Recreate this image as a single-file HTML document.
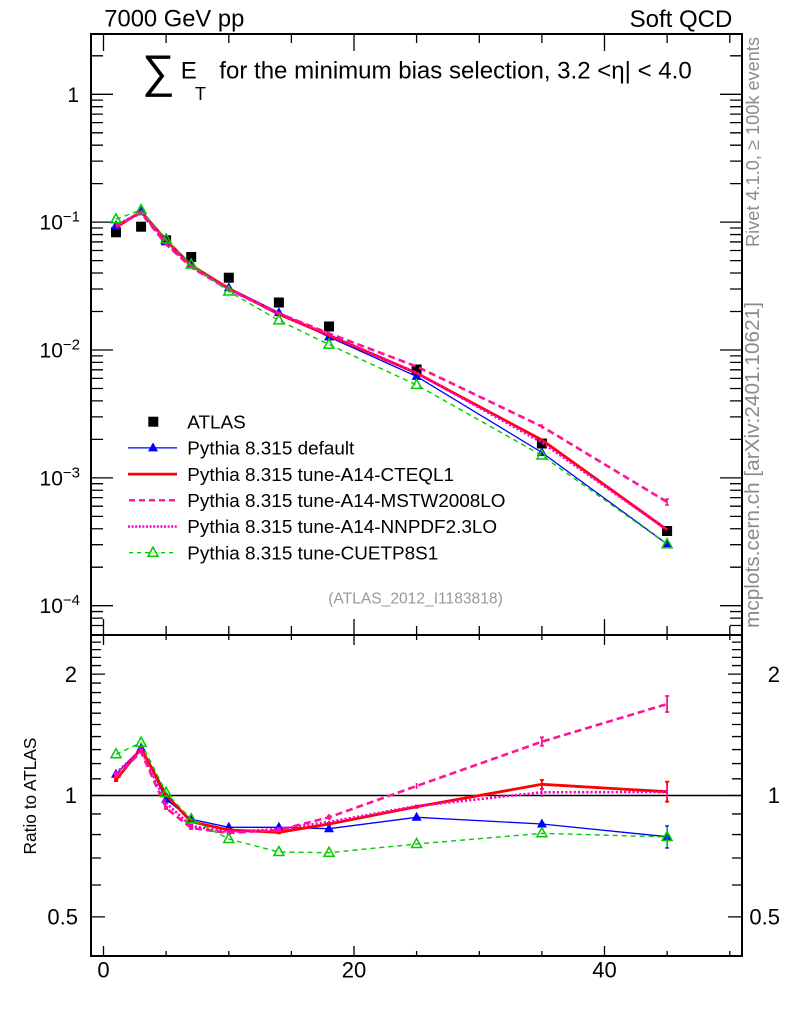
<!DOCTYPE html>
<html><head><meta charset="utf-8"><style>
html,body{margin:0;padding:0;background:#fff;}
svg{display:block;font-family:"Liberation Sans","DejaVu Sans",sans-serif;}
</style></head><body>
<svg width="786" height="1024" viewBox="0 0 786 1024" xmlns="http://www.w3.org/2000/svg">
<defs>
<path id="tri" d="M0,-5.5 L5,3.5 L-5,3.5 Z"/>
</defs>
<rect width="786" height="1024" fill="#fff"/>

<!-- header texts -->
<text x="104.3" y="26.7" font-size="23.6" textLength="140" lengthAdjust="spacingAndGlyphs">7000 GeV pp</text>
<text x="732.3" y="27" font-size="24" text-anchor="end">Soft QCD</text>

<!-- title -->
<text x="142" y="87" font-size="46">∑</text>
<text x="180.7" y="78.3" font-size="24">E</text>
<text x="195" y="100" font-size="18">T</text>
<text x="219.3" y="78.3" font-size="24" textLength="472.4" lengthAdjust="spacingAndGlyphs">for the minimum bias selection, 3.2 &lt;η| &lt; 4.0</text>

<!-- right rotated texts -->
<text transform="translate(759,247) rotate(-90)" font-size="18.3" fill="#8c8c8c" textLength="210" lengthAdjust="spacingAndGlyphs">Rivet 4.1.0, ≥ 100k events</text>
<text transform="translate(759,628) rotate(-90)" font-size="20" fill="#8c8c8c" textLength="326" lengthAdjust="spacingAndGlyphs">mcplots.cern.ch [arXiv:2401.10621]</text>

<!-- ratio y label -->
<text transform="translate(36,796) rotate(-90)" font-size="17.3" text-anchor="middle">Ratio to ATLAS</text>

<!-- frames -->
<rect x="91" y="34" width="651" height="601" fill="none" stroke="#000" stroke-width="2"/>
<rect x="91" y="635" width="651" height="321" fill="none" stroke="#000" stroke-width="2"/>

<!-- main panel y ticks -->
<path stroke="#000" stroke-width="1.3" fill="none" d="
M91,94.3h22 M91,222.15h22 M91,350h22 M91,477.85h22 M91,605.7h22
M742,94.3h-22 M742,222.15h-22 M742,350h-22 M742,477.85h-22 M742,605.7h-22
M91,55.81h12 M91,183.66h12 M91,161.15h12 M91,145.18h12 M91,132.79h12 M91,122.66h12 M91,114.1h12 M91,106.69h12 M91,100.15h12
M91,311.51h12 M91,289h12 M91,273.03h12 M91,260.64h12 M91,250.51h12 M91,241.95h12 M91,234.54h12 M91,228h12
M91,439.36h12 M91,416.85h12 M91,400.88h12 M91,388.49h12 M91,378.36h12 M91,369.8h12 M91,362.39h12 M91,355.85h12
M91,567.21h12 M91,544.7h12 M91,528.73h12 M91,516.34h12 M91,506.21h12 M91,497.65h12 M91,490.24h12 M91,483.7h12
M91,625.5h12 M91,618.09h12 M91,611.55h12
M742,55.81h-12 M742,183.66h-12 M742,161.15h-12 M742,145.18h-12 M742,132.79h-12 M742,122.66h-12 M742,114.1h-12 M742,106.69h-12 M742,100.15h-12
M742,311.51h-12 M742,289h-12 M742,273.03h-12 M742,260.64h-12 M742,250.51h-12 M742,241.95h-12 M742,234.54h-12 M742,228h-12
M742,439.36h-12 M742,416.85h-12 M742,400.88h-12 M742,388.49h-12 M742,378.36h-12 M742,369.8h-12 M742,362.39h-12 M742,355.85h-12
M742,567.21h-12 M742,544.7h-12 M742,528.73h-12 M742,516.34h-12 M742,506.21h-12 M742,497.65h-12 M742,490.24h-12 M742,483.7h-12
M742,625.5h-12 M742,618.09h-12 M742,611.55h-12
"/>

<!-- x ticks -->
<path stroke="#000" stroke-width="1.3" fill="none" d="
M103.5,34v17 M354,34v17 M604.5,34v17
M166.1,34v9 M228.8,34v9 M291.4,34v9 M416.6,34v9 M479.3,34v9 M541.9,34v9 M667.1,34v9 M729.8,34v9
M103.5,635v-16 M354,635v-16 M604.5,635v-16
M166.1,635v-9 M228.8,635v-9 M291.4,635v-9 M416.6,635v-9 M479.3,635v-9 M541.9,635v-9 M667.1,635v-9 M729.8,635v-9
M103.5,635v10 M354,635v10 M604.5,635v10
M166.1,635v5 M228.8,635v5 M291.4,635v5 M416.6,635v5 M479.3,635v5 M541.9,635v5 M667.1,635v5 M729.8,635v5
M103.5,956v-10 M354,956v-10 M604.5,956v-10
M166.1,956v-5 M228.8,956v-5 M291.4,956v-5 M416.6,956v-5 M479.3,956v-5 M541.9,956v-5 M667.1,956v-5 M729.8,956v-5
"/>

<!-- ratio y ticks -->
<path stroke="#000" stroke-width="1.3" fill="none" d="
M91,674.1h14 M91,795.5h14 M91,916.9h14
M742,674.1h-14 M742,795.5h-14 M742,916.9h-14
M91,884.97h10 M91,857.97h10 M91,834.58h10 M91,813.95h10 M91,778.8h10 M91,763.57h10 M91,749.55h10 M91,736.57h10 M91,724.48h10 M91,713.18h10 M91,702.56h10 M91,692.55h10 M91,683.08h10 M91,665.55h10 M91,657.4h10 M91,649.61h10 M91,642.16h10
M742,884.97h-10 M742,857.97h-10 M742,834.58h-10 M742,813.95h-10 M742,778.8h-10 M742,763.57h-10 M742,749.55h-10 M742,736.57h-10 M742,724.48h-10 M742,713.18h-10 M742,702.56h-10 M742,692.55h-10 M742,683.08h-10 M742,665.55h-10 M742,657.4h-10 M742,649.61h-10 M742,642.16h-10
"/>

<!-- main y labels -->
<g font-size="21" text-anchor="end">
<text x="79" y="101.8">1</text>
<text x="80" y="229.6">10<tspan font-size="15" dy="-8">−1</tspan></text>
<text x="80" y="357.5">10<tspan font-size="15" dy="-8">−2</tspan></text>
<text x="80" y="485.3">10<tspan font-size="15" dy="-8">−3</tspan></text>
<text x="80" y="613.2">10<tspan font-size="15" dy="-8">−4</tspan></text>
</g>

<!-- ratio y labels -->
<g font-size="22" text-anchor="end">
<text x="77" y="681.8">2</text>
<text x="77" y="803.2">1</text>
<text x="78" y="924.6">0.5</text>
<text x="780" y="681.8">2</text>
<text x="780" y="803.2">1</text>
<text x="780" y="924.6">0.5</text>
</g>

<!-- x labels -->
<g font-size="22" text-anchor="middle">
<text x="103.5" y="977.7">0</text>
<text x="354" y="977.7">20</text>
<text x="604.5" y="977.7">40</text>
</g>

<!-- analysis id -->
<text x="415.5" y="603.5" font-size="15.6" fill="#999" text-anchor="middle">(ATLAS_2012_I1183818)</text>

<!-- ===== MAIN PANEL DATA ===== -->
<g fill="#000">
<rect x="111" y="227.3" width="10" height="10"/>
<rect x="136.1" y="221.7" width="10" height="10"/>
<rect x="161.1" y="235.3" width="10" height="10"/>
<rect x="186.2" y="252" width="10" height="10"/>
<rect x="223.8" y="272.7" width="10" height="10"/>
<rect x="273.9" y="297.5" width="10" height="10"/>
<rect x="324" y="321.5" width="10" height="10"/>
<rect x="411.6" y="364.5" width="10" height="10"/>
<rect x="536.9" y="438.5" width="10" height="10"/>
<rect x="662.1" y="526" width="10" height="10"/>
</g>

<!-- blue default -->
<polyline fill="none" stroke="#0000ff" stroke-width="1.3" points="116.0,225.6 141.1,211.7 166.1,241.5 191.2,264.5 228.8,287.8 278.9,312.6 329.0,337.0 416.6,376.4 541.9,452.5 667.1,544.1"/>
<g fill="#0000ff">
<use href="#tri" x="116.0" y="225.6"/><use href="#tri" x="141.1" y="211.7"/><use href="#tri" x="166.1" y="241.5"/><use href="#tri" x="191.2" y="264.5"/><use href="#tri" x="228.8" y="287.8"/><use href="#tri" x="278.9" y="312.6"/><use href="#tri" x="329.0" y="337.0"/><use href="#tri" x="416.6" y="376.4"/><use href="#tri" x="541.9" y="452.5"/><use href="#tri" x="667.1" y="544.1"/>
</g>
<!-- red CTEQL1 -->
<polyline fill="none" stroke="#ff0000" stroke-width="2.8" points="116.0,227.4 141.1,211.7 166.1,240.1 191.2,265.3 228.8,288.6 278.9,314.2 329.0,335.5 416.6,373.1 541.9,440.0 667.1,529.8"/>
<!-- MSTW dashed -->
<polyline fill="none" stroke="#ff1493" stroke-width="2.6" stroke-dasharray="7 4" points="116.0,226.1 141.1,212.9 166.1,244.3 191.2,267.3 228.8,289.6 278.9,313.4 329.0,333.4 416.6,366.5 541.9,426.5 667.1,502.0"/>
<path stroke="#ff1493" stroke-width="1.5" d="M667.1,499v6 M665,499h4 M665,505h4 M541.9,424v5"/>
<!-- NNPDF dotted -->
<polyline fill="none" stroke="#ff00cc" stroke-width="2.6" stroke-dasharray="2.2 2" points="116.0,225.2 141.1,212.3 166.1,242.7 191.2,266.7 228.8,289.3 278.9,313.1 329.0,334.9 416.6,372.8 541.9,442.5 667.1,529.9"/>
<!-- green CUETP8S1 -->
<polyline fill="none" stroke="#00cc00" stroke-width="1.4" stroke-dasharray="5 4" points="116.0,219.2 141.1,210.0 166.1,239.4 191.2,264.5 228.8,291.5 278.9,320.4 329.0,344.6 416.6,384.9 541.9,455.5 667.1,544.2"/>
<g fill="none" stroke="#00cc00" stroke-width="1.5">
<use href="#tri" x="116.0" y="219.2"/><use href="#tri" x="141.1" y="210.0"/><use href="#tri" x="166.1" y="239.4"/><use href="#tri" x="191.2" y="264.5"/><use href="#tri" x="228.8" y="291.5"/><use href="#tri" x="278.9" y="320.4"/><use href="#tri" x="329.0" y="344.6"/><use href="#tri" x="416.6" y="384.9"/><use href="#tri" x="541.9" y="455.5"/><use href="#tri" x="667.1" y="544.2"/>
</g>

<!-- ===== LEGEND ===== -->
<rect x="148.3" y="416.7" width="10" height="10" fill="#000"/>
<line x1="128" y1="447.9" x2="177" y2="447.9" stroke="#0000ff" stroke-width="1.3"/>
<use href="#tri" x="153" y="447.9" fill="#0000ff"/>
<line x1="128" y1="474.1" x2="177" y2="474.1" stroke="#ff0000" stroke-width="2.8"/>
<line x1="129" y1="500.3" x2="177" y2="500.3" stroke="#ff1493" stroke-width="2.4" stroke-dasharray="6 4"/>
<line x1="128" y1="526.5" x2="177" y2="526.5" stroke="#ff00cc" stroke-width="2.4" stroke-dasharray="2 1.6"/>
<line x1="129" y1="552.7" x2="177" y2="552.7" stroke="#00cc00" stroke-width="1.4" stroke-dasharray="4 4"/>
<use href="#tri" x="153" y="552.7" fill="#fff" stroke="#00cc00" stroke-width="1.5"/>
<g font-size="18.9">
<text x="187.3" y="428.4">ATLAS</text>
<text x="187.3" y="454.6">Pythia 8.315 default</text>
<text x="187.3" y="480.8">Pythia 8.315 tune-A14-CTEQL1</text>
<text x="187.3" y="507">Pythia 8.315 tune-A14-MSTW2008LO</text>
<text x="187.3" y="533.2">Pythia 8.315 tune-A14-NNPDF2.3LO</text>
<text x="187.3" y="559.4">Pythia 8.315 tune-CUETP8S1</text>
</g>

<!-- ===== RATIO PANEL ===== -->
<line x1="91" y1="795.5" x2="742" y2="795.5" stroke="#000" stroke-width="1.5"/>

<!-- blue -->
<polyline fill="none" stroke="#0000ff" stroke-width="1.3" points="116.0,774.3 141.1,748.3 166.1,799.3 191.2,819.3 228.8,827.3 278.9,827.3 329.0,828.7 416.6,817.3 541.9,824 667.1,836.7"/>
<path stroke="#0000ff" stroke-width="1.3" d="M667.1,826v22 M665,826h4 M665,848h4 M541.9,820v8"/>
<g fill="#0000ff">
<use href="#tri" x="116.0" y="774.3"/><use href="#tri" x="141.1" y="748.3"/><use href="#tri" x="166.1" y="799.3"/><use href="#tri" x="191.2" y="819.3"/><use href="#tri" x="228.8" y="827.3"/><use href="#tri" x="278.9" y="827.3"/><use href="#tri" x="329.0" y="828.7"/><use href="#tri" x="416.6" y="817.3"/><use href="#tri" x="541.9" y="824"/><use href="#tri" x="667.1" y="836.7"/>
</g>
<!-- red -->
<polyline fill="none" stroke="#ff0000" stroke-width="2.8" points="116.0,780 141.1,748.3 166.1,795 191.2,821.7 228.8,830 278.9,832.3 329.0,824 416.6,806.7 541.9,784.3 667.1,791.7"/>
<path stroke="#ff0000" stroke-width="1.8" d="M541.9,780v9 M539.9,780h4 M539.9,789h4 M667.1,781.7v20 M665.1,781.7h4 M665.1,801.7h4"/>
<g fill="#ff0000">
<rect x="114" y="778" width="4" height="4"/><rect x="139.1" y="746.3" width="4" height="4"/><rect x="164.1" y="793" width="4" height="4"/><rect x="189.2" y="819.7" width="4" height="4"/><rect x="226.8" y="828" width="4" height="4"/><rect x="276.9" y="830.3" width="4" height="4"/><rect x="327" y="822" width="4" height="4"/><rect x="414.6" y="804.7" width="4" height="4"/>
</g>
<!-- MSTW -->
<polyline fill="none" stroke="#ff1493" stroke-width="2.6" stroke-dasharray="7 4" points="116.0,776 141.1,752 166.1,808 191.2,828 228.8,833 278.9,830 329.0,817.3 416.6,786 541.9,741.7 667.1,704"/>
<path stroke="#ff1493" stroke-width="1.8" d="M541.9,737.3v8.4 M539.9,737.3h4 M539.9,745.7h4 M667.1,696v16 M665.1,696h4 M665.1,712h4 M416.6,783v6 M329,814v6"/>
<g fill="#ff1493">
<rect x="114" y="774" width="4" height="4"/><rect x="164.1" y="806" width="4" height="4"/><rect x="189.2" y="826" width="4" height="4"/><rect x="226.8" y="831" width="4" height="4"/><rect x="276.9" y="828" width="4" height="4"/><rect x="327" y="815.3" width="4" height="4"/>
</g>
<!-- NNPDF -->
<polyline fill="none" stroke="#ff00cc" stroke-width="2.6" stroke-dasharray="2.2 2" points="116.0,773 141.1,750 166.1,803 191.2,826 228.8,832 278.9,829 329.0,822 416.6,806 541.9,792.3 667.1,792"/>
<path stroke="#ff00cc" stroke-width="1.5" d="M541.9,788v9 M667.1,786v12"/>
<g fill="#ff00cc">
<rect x="114" y="771" width="4" height="4"/><rect x="139.1" y="748" width="4" height="4"/><rect x="189.2" y="824" width="4" height="4"/><rect x="226.8" y="830" width="4" height="4"/><rect x="276.9" y="827" width="4" height="4"/>
</g>
<!-- green -->
<polyline fill="none" stroke="#00cc00" stroke-width="1.4" stroke-dasharray="5 4" points="116.0,754.3 141.1,742.7 166.1,792.7 191.2,819.3 228.8,839 278.9,852 329.0,852.7 416.6,844 541.9,833.3 667.1,837"/>
<path stroke="#00aa44" stroke-width="1.3" d="M667.1,827v20"/>
<g fill="none" stroke="#00cc00" stroke-width="1.5">
<use href="#tri" x="116.0" y="754.3"/><use href="#tri" x="141.1" y="742.7"/><use href="#tri" x="166.1" y="792.7"/><use href="#tri" x="191.2" y="819.3"/><use href="#tri" x="228.8" y="839"/><use href="#tri" x="278.9" y="852"/><use href="#tri" x="329.0" y="852.7"/><use href="#tri" x="416.6" y="844"/><use href="#tri" x="541.9" y="833.3"/><use href="#tri" x="667.1" y="837"/>
</g>
</svg>
</body></html>
